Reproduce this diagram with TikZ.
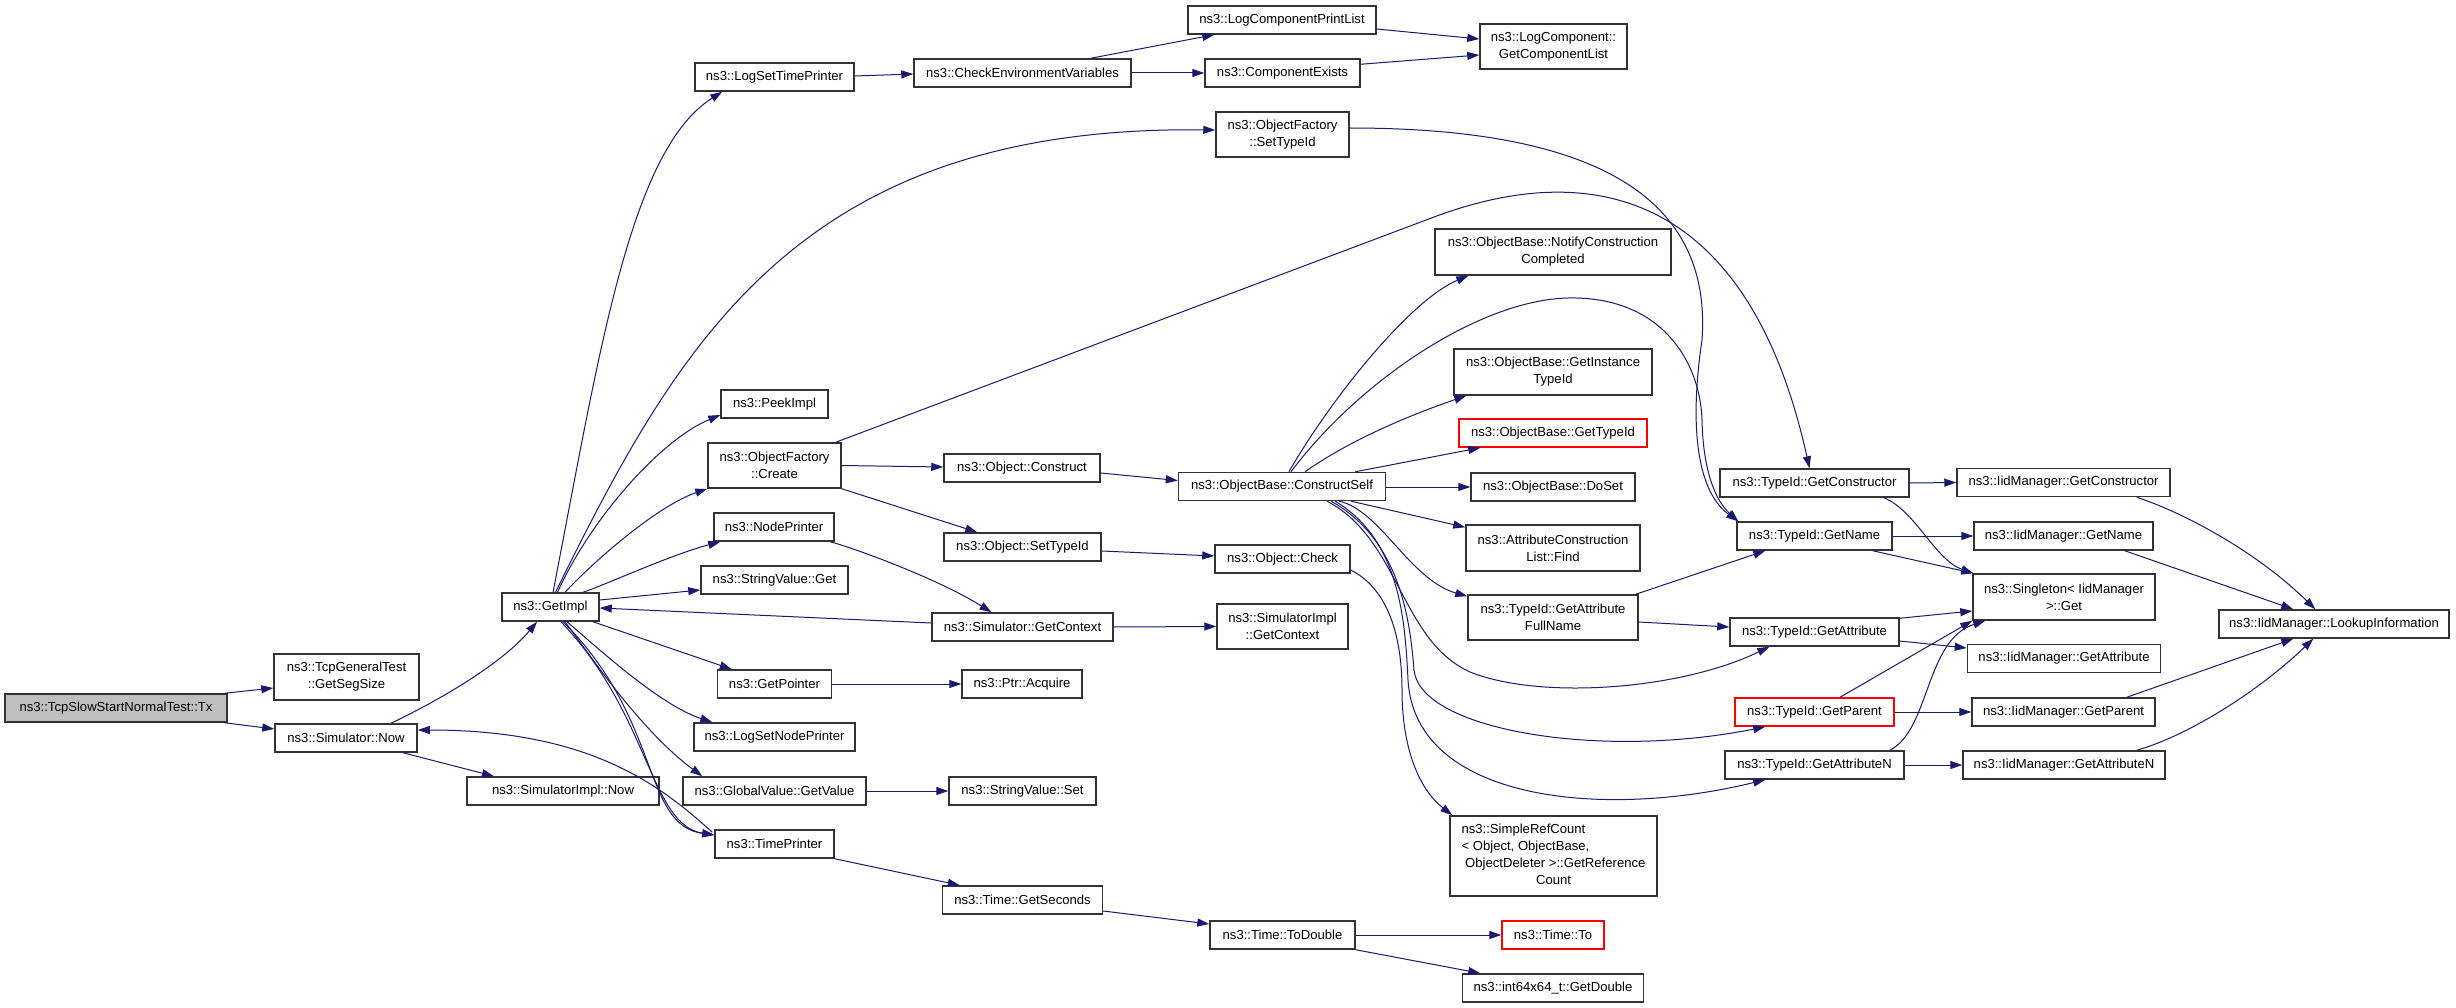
\documentclass[tikz,border=0pt]{standalone}
\usepackage{fontspec}
\setmainfont{Liberation Sans}
\usetikzlibrary{arrows.meta,calc}
\definecolor{edgeblue}{HTML}{191970}
\definecolor{boxline}{HTML}{333333}
\definecolor{txfill}{HTML}{BFBFBF}
\definecolor{redline}{HTML}{FF0000}
\begin{document}
\begin{tikzpicture}[x=1pt,y=-1pt,
  box/.style={draw=boxline, line width=1.5pt, fill=white, inner sep=0pt, align=center,
    font=\fontsize{13.1}{17}\selectfont, minimum height=28pt},
  redbox/.style={box, draw=redline},
  call/.style={draw=edgeblue, line width=1pt, -{Triangle[length=12pt,width=8pt]}},
]
\useasboundingbox (0,0) rectangle (2456,1008);
\fill[white] (0,0) rectangle (2456,1008);

% ---------- nodes ----------
\node[box, fill=txfill, minimum width=222pt] (tx) at (116,708) {ns3::TcpSlowStartNormalTest::Tx};
\node[box, minimum width=145pt, minimum height=46pt] (segsize) at (346.5,677) {ns3::TcpGeneralTest\\::GetSegSize};
\node[box, minimum width=142pt] (simnow) at (346,738) {ns3::Simulator::Now};
\node[box, minimum width=192pt] (simimplnow) at (563,791) {ns3::SimulatorImpl::Now};
\node[box, minimum width=97pt] (getimpl) at (550.5,607) {ns3::GetImpl};
\node[box, minimum width=159pt] (logsettime) at (774.5,77) {ns3::LogSetTimePrinter};
\node[box, minimum width=217pt] (checkenv) at (1022.5,73) {ns3::CheckEnvironmentVariables};
\node[box, minimum width=188pt] (printlist) at (1282,20) {ns3::LogComponentPrintList};
\node[box, minimum width=155pt] (compexists) at (1282.5,73) {ns3::ComponentExists};
\node[box, minimum width=147pt, minimum height=45pt] (complist) at (1553.5,46.5) {ns3::LogComponent::\\GetComponentList};
\node[box, minimum width=133pt, minimum height=45pt] (ofsettypeid) at (1282.5,134.5) {ns3::ObjectFactory\\::SetTypeId};
\node[box, minimum width=236pt, minimum height=46pt] (notify) at (1553,252) {ns3::ObjectBase::NotifyConstruction\\Completed};
\node[box, minimum width=107pt] (peekimpl) at (774.5,404) {ns3::PeekImpl};
\node[box, minimum width=133pt, minimum height=45pt] (ofcreate) at (774.5,465.5) {ns3::ObjectFactory\\::Create};
\node[box, minimum width=156pt] (objconstruct) at (1022,468) {ns3::Object::Construct};
\node[box, minimum width=120pt] (nodeprinter) at (774,527) {ns3::NodePrinter};
\node[box, minimum width=157pt] (objsettypeid) at (1022.5,547) {ns3::Object::SetTypeId};
\node[box, minimum width=147pt] (strget) at (774.5,580) {ns3::StringValue::Get};
\node[box, minimum width=181pt] (simgetctx) at (1022.5,627) {ns3::Simulator::GetContext};
\node[box, minimum width=207pt] (constructself) at (1282,486.5) {ns3::ObjectBase::ConstructSelf};
\node[box, minimum width=135pt] (objcheck) at (1282.5,559) {ns3::Object::Check};
\node[box, minimum width=131pt, minimum height=45pt] (simimplctx) at (1282.5,626.5) {ns3::SimulatorImpl\\::GetContext};
\node[box, minimum width=198pt, minimum height=46pt] (instancetypeid) at (1553,372) {ns3::ObjectBase::GetInstance\\TypeId};
\node[redbox, minimum width=188pt] (obgettypeid) at (1553,433) {ns3::ObjectBase::GetTypeId};
\node[box, minimum width=164pt] (doset) at (1553,487) {ns3::ObjectBase::DoSet};
\node[box, minimum width=174pt, minimum height=46pt] (attrfind) at (1553,548) {ns3::AttributeConstruction\\List::Find};
\node[box, minimum width=170pt, minimum height=45pt] (fullname) at (1553,617.5) {ns3::TypeId::GetAttribute\\FullName};
\node[box, minimum width=189pt] (tigetctor) at (1814.5,483) {ns3::TypeId::GetConstructor};
\node[box, minimum width=155pt] (tigetname) at (1814.5,536) {ns3::TypeId::GetName};
\node[box, minimum width=169pt] (tigetattr) at (1814.5,632) {ns3::TypeId::GetAttribute};
\node[redbox, minimum width=159pt] (tigetparent) at (1814.5,712) {ns3::TypeId::GetParent};
\node[box, minimum width=179pt] (tigetattrn) at (1814.5,765) {ns3::TypeId::GetAttributeN};
\node[box, minimum width=207pt, minimum height=80pt] (refcount) at (1553.5,856)
  {\begin{tabular}{@{}l@{}}ns3::SimpleRefCount\\<~Object, ObjectBase,\\\ ObjectDeleter~>::GetReference\\\multicolumn{1}{@{}c@{}}{Count}\end{tabular}};
\node[box, minimum width=182pt, minimum height=46pt] (singleton) at (2064,597) {ns3::Singleton< IidManager\\>::Get};
\node[box, minimum width=213pt] (imgetctor) at (2063.5,482.5) {ns3::IidManager::GetConstructor};
\node[box, minimum width=179pt] (imgetname) at (2063.5,536) {ns3::IidManager::GetName};
\node[box, minimum width=193pt] (imgetattr) at (2064,658.5) {ns3::IidManager::GetAttribute};
\node[box, minimum width=183pt] (imgetparent) at (2063.5,712) {ns3::IidManager::GetParent};
\node[box, minimum width=202pt] (imgetattrn) at (2064,765) {ns3::IidManager::GetAttributeN};
\node[box, minimum width=230pt] (lookup) at (2334,624) {ns3::IidManager::LookupInformation};
\node[box, minimum width=114pt] (getpointer) at (774.5,684) {ns3::GetPointer};
\node[box, minimum width=120pt] (acquire) at (1022,684) {ns3::Ptr::Acquire};
\node[box, minimum width=161pt] (logsetnode) at (774.5,737) {ns3::LogSetNodePrinter};
\node[box, minimum width=183pt] (gvgetvalue) at (774.5,791) {ns3::GlobalValue::GetValue};
\node[box, minimum width=147pt] (strset) at (1022.5,791) {ns3::StringValue::Set};
\node[box, minimum width=119pt] (timeprinter) at (774.5,844) {ns3::TimePrinter};
\node[box, minimum width=160pt] (getseconds) at (1022.5,900) {ns3::Time::GetSeconds};
\node[box, minimum width=145pt] (todouble) at (1282.5,935) {ns3::Time::ToDouble};
\node[redbox, minimum width=102pt] (timeto) at (1553,935) {ns3::Time::To};
\node[box, minimum width=181pt] (getdouble) at (1553,988) {ns3::int64x64\_t::GetDouble};

% ---------- edges ----------
% Tx
\draw[call] ($(tx.north east)+(-3,0)$) -- ($(segsize.west)+(0,11)$);
\draw[call] ($(tx.south east)+(-3,0)$) -- ($(simnow.west)+(0,-9)$);
% Simulator::Now
\draw[call] ($(simnow.north)+(45,0)$) .. controls (450,695) and (505,660) .. ($(getimpl.south)+(-13.5,0)$);
\draw[call] ($(simnow.south)+(57,0)$) -- ($(simimplnow.north)+(-69,0)$);
\draw[call] ($(timeprinter.north west)+(-2,3)$) .. controls (660,785) and (590,730) .. ($(simnow.east)+(0,-8)$);
% GetImpl fan-out
\draw[call] ($(getimpl.north)+(2.5,0)$) .. controls (600,350) and (630,150) .. ($(logsettime.south west)+(28,0)$);
\draw[call] ($(getimpl.north)+(5,0)$) .. controls (680,340) and (800,125) .. ($(ofsettypeid.west)+(0,-4.5)$);
\draw[call] ($(getimpl.north)+(7,0)$) .. controls (590,520) and (660,440) .. ($(peekimpl.west)+(0,11)$);
\draw[call] ($(getimpl.north)+(14.5,0)$) .. controls (600,555) and (660,505) .. (ofcreate.south west);
\draw[call] ($(getimpl.north)+(32.5,0)$) .. controls (605,585) and (670,555) .. ($(nodeprinter.south west)+(7,0)$);
\draw[call] ($(getimpl.east)+(0,-7)$) -- ($(strget.west)+(0,10)$);
\draw[call] ($(simgetctx.west)+(0,-4)$) -- ($(getimpl.east)+(0,1)$);
\draw[call] ($(getimpl.south)+(42.5,0)$) -- ($(getpointer.north west)+(15,0)$);
\draw[call] ($(getimpl.south)+(16.5,0)$) .. controls (600,650) and (660,705) .. ($(logsetnode.north west)+(19,0)$);
\draw[call] ($(getimpl.south)+(14.5,0)$) .. controls (590,655) and (640,730) .. ($(gvgetvalue.north west)+(20,0)$);
\draw[call] ($(getimpl.south)+(10.5,0)$) .. controls (650,715) and (650,825) .. ($(timeprinter.west)+(0,-9)$);
\draw[call] ($(getimpl.south)+(12.5,0)$) .. controls (662,720) and (642,825) .. ($(timeprinter.west)+(0,-9)$);
% third column
\draw[call] (ofcreate.east) -- ($(objconstruct.west)+(0,-1)$);
\draw[call] (ofcreate.south east) -- ($(objsettypeid.north west)+(34,0)$);
\draw[call] ($(ofcreate.north east)+(-6,0)$) -- (1434,217) .. controls (1600,155) and (1750,200) .. ($(tigetctor.north)+(-5,0)$);
\draw[call] ($(nodeprinter.south east)+(-4.5,0)$) .. controls (860,550) and (940,580) .. ($(simgetctx.north)+(-31,0)$);
\draw[call] (simgetctx.east) -- (simimplctx.west);
\draw[call] (getpointer.east) -- (acquire.west);
\draw[call] (gvgetvalue.east) -- (strset.west);
\draw[call] (timeprinter.south east) -- ($(getseconds.north west)+(18,0)$);
\draw[call] ($(getseconds.east)+(0,11)$) -- ($(todouble.west)+(0,-11)$);
\draw[call] (todouble.east) -- (timeto.west);
\draw[call] (todouble.south east) -- ($(getdouble.north west)+(18.5,0)$);
\draw[call] ($(logsettime.east)+(0,-1)$) -- ($(checkenv.west)+(0,1)$);
\draw[call] ($(checkenv.north east)+(-41,0)$) -- ($(printlist.south west)+(27,0)$);
\draw[call] (checkenv.east) -- (compexists.west);
\draw[call] ($(printlist.east)+(0,9)$) -- ($(complist.west)+(0,-7.5)$);
\draw[call] ($(compexists.north east)+(0,6)$) -- ($(complist.west)+(0,8.5)$);
\draw[call] ($(objconstruct.east)+(0,5)$) -- ($(constructself.west)+(0,-6)$);
\draw[call] ($(objsettypeid.east)+(0,4)$) -- ($(objcheck.west)+(0,-3)$);
% ObjectFactory::SetTypeId -> TypeId::GetName
\draw[call] ($(ofsettypeid.east)+(0,-6.5)$) .. controls (1600,128) and (1712,200) .. (1702,340)
  .. controls (1690,420) and (1695,490) .. ($(tigetname.north west)+(2,0)$);
% ConstructSelf fan-out
\draw[call] ($(constructself.north)+(7,0)$) .. controls (1330,400) and (1410,300) .. ($(notify.south west)+(34,0)$);
\draw[call] ($(constructself.north)+(9,0)$) .. controls (1360,380) and (1480,300) .. (1568,298)
  .. controls (1660,296) and (1700,360) .. (1702,420)
  .. controls (1703,470) and (1715,500) .. ($(tigetname.north west)+(2,0)$);
\draw[call] ($(constructself.north)+(23,0)$) .. controls (1350,440) and (1410,415) .. ($(instancetypeid.south west)+(13,0)$);
\draw[call] ($(constructself.north east)+(-31,0)$) -- ($(obgettypeid.south west)+(22,0)$);
\draw[call] ($(constructself.east)+(0,0.5)$) -- (doset.west);
\draw[call] ($(constructself.south east)+(-35,0)$) -- ($(attrfind.north west)+(0,3)$);
\draw[call] ($(constructself.south east)+(-47,0)$) .. controls (1380,510) and (1410,580) .. ($(fullname.north west)+(0,2)$);
\draw[call] ($(constructself.south east)+(-59,0)$) .. controls (1400,540) and (1400,640) .. (1470,672)
  .. controls (1540,700) and (1680,690) .. ($(tigetattr.south west)+(40,0)$);
\draw[call] ($(constructself.south east)+(-55,0)$) .. controls (1400,540) and (1410,620) .. (1414,670)
  .. controls (1420,730) and (1600,760) .. ($(tigetparent.south west)+(31,0)$);
\draw[call] ($(constructself.south east)+(-51,0)$) .. controls (1400,540) and (1405,620) .. (1408,680)
  .. controls (1415,800) and (1600,820) .. ($(tigetattrn.south west)+(41,0)$);
% Object::Check -> SimpleRefCount
\draw[call] ($(objcheck.east)+(0,11)$) .. controls (1390,590) and (1402,640) .. (1402,690)
  .. controls (1402,750) and (1420,790) .. ($(refcount.north west)+(3,0)$);
% GetAttributeFullName
\draw[call] ($(fullname.north east)+(-3,0)$) -- ($(tigetname.south west)+(29,0)$);
\draw[call] ($(fullname.east)+(0,4.5)$) -- ($(tigetattr.west)+(0,-5)$);
% TypeId column
\draw[call] (tigetctor.east) -- (imgetctor.west);
\draw[call] ($(tigetctor.south east)+(-26,0)$) .. controls (1915,510) and (1935,560) .. ($(singleton.north west)+(1,0)$);
\draw[call] (tigetname.east) -- (imgetname.west);
\draw[call] ($(tigetname.south east)+(-20,0)$) -- ($(singleton.north west)+(1,0)$);
\draw[call] ($(tigetattr.north east)+(0,1)$) -- ($(singleton.west)+(0,14)$);
\draw[call] ($(tigetattr.east)+(0,9)$) -- ($(imgetattr.west)+(0,-10.5)$);
\draw[call] ($(tigetparent.north)+(25.5,0)$) -- (singleton.south west);
\draw[call] (tigetparent.east) -- (imgetparent.west);
\draw[call] ($(tigetattrn.north east)+(-15,0)$) .. controls (1930,730) and (1925,640) .. ($(singleton.south west)+(13,0)$);
\draw[call] (tigetattrn.east) -- (imgetattrn.west);
% IidManager -> LookupInformation
\draw[call] ($(imgetctor.south east)+(-34,0)$) .. controls (2190,515) and (2260,555) .. ($(lookup.north west)+(97,0)$);
\draw[call] ($(imgetname.south east)+(-29,0)$) -- ($(lookup.north west)+(75,0)$);
\draw[call] ($(imgetparent.north east)+(-29,0)$) -- ($(lookup.south west)+(75,0)$);
\draw[call] ($(imgetattrn.north east)+(-29,0)$) .. controls (2190,735) and (2260,690) .. ($(lookup.south west)+(95,0)$);
\end{tikzpicture}
\end{document}
